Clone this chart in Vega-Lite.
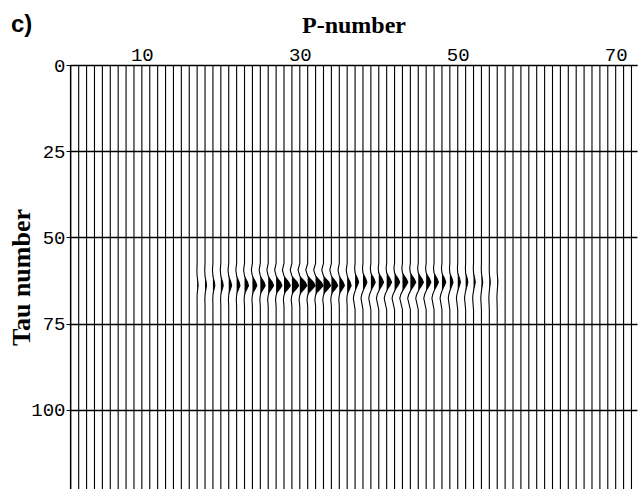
{
"$schema": "https://vega.github.io/schema/vega-lite/v6.json",
"width": 567, "height": 424,
"autosize": "none",
"padding": {"left": 70, "top": 65, "right": 4, "bottom": 0},
"background": "white",
"title": {"text": "c)", "anchor": "start", "frame": "bounds", "font": "Liberation Sans", "fontWeight": "bold", "fontSize": 24, "color": "black", "offset": 0, "dy": 24, "dx": 3},
"config": {"view": {"stroke": null}},
"datasets": {
"plain": [{"p":1},{"p":2},{"p":3},{"p":4},{"p":5},{"p":6},{"p":7},{"p":8},{"p":9},{"p":10},{"p":11},{"p":12},{"p":13},{"p":14},{"p":15},{"p":16},{"p":56},{"p":57},{"p":58},{"p":59},{"p":60},{"p":61},{"p":62},{"p":63},{"p":64},{"p":65},{"p":66},{"p":67},{"p":68},{"p":69},{"p":70},{"p":71},{"p":72}],
"wig": [
{"p":17,"t":0,"x":17},{"p":17,"t":57.5,"x":17},{"p":17,"t":59.5,"x":16.97},{"p":17,"t":61.2,"x":17},{"p":17,"t":62,"x":17.04},{"p":17,"t":63,"x":17.09},{"p":17,"t":64,"x":17.12},{"p":17,"t":65,"x":17.07},{"p":17,"t":66,"x":17.02},{"p":17,"t":66.8,"x":17},{"p":17,"t":68,"x":16.99},{"p":17,"t":70,"x":17},{"p":17,"t":123,"x":17},
{"p":18,"t":0,"x":18},{"p":18,"t":57.5,"x":18},{"p":18,"t":59.5,"x":17.96},{"p":18,"t":61.2,"x":18},{"p":18,"t":62,"x":18.05},{"p":18,"t":63,"x":18.14},{"p":18,"t":64,"x":18.18},{"p":18,"t":65,"x":18.11},{"p":18,"t":66,"x":18.03},{"p":18,"t":66.8,"x":18},{"p":18,"t":68,"x":17.98},{"p":18,"t":70,"x":18},{"p":18,"t":123,"x":18},
{"p":19,"t":0,"x":19},{"p":19,"t":57.5,"x":19},{"p":19,"t":59.5,"x":18.94},{"p":19,"t":61.2,"x":19},{"p":19,"t":62,"x":19.07},{"p":19,"t":63,"x":19.18},{"p":19,"t":64,"x":19.24},{"p":19,"t":65,"x":19.14},{"p":19,"t":66,"x":19.04},{"p":19,"t":66.8,"x":19},{"p":19,"t":68,"x":18.98},{"p":19,"t":70,"x":19},{"p":19,"t":123,"x":19},
{"p":20,"t":0,"x":20},{"p":20,"t":57.5,"x":20},{"p":20,"t":59.5,"x":19.93},{"p":20,"t":61.2,"x":20},{"p":20,"t":62,"x":20.09},{"p":20,"t":63,"x":20.23},{"p":20,"t":64,"x":20.3},{"p":20,"t":65,"x":20.18},{"p":20,"t":66,"x":20.05},{"p":20,"t":66.8,"x":20},{"p":20,"t":68,"x":19.97},{"p":20,"t":70,"x":20},{"p":20,"t":123,"x":20},
{"p":21,"t":0,"x":21},{"p":21,"t":57.5,"x":21},{"p":21,"t":59.5,"x":20.91},{"p":21,"t":61.2,"x":21},{"p":21,"t":62,"x":21.11},{"p":21,"t":63,"x":21.27},{"p":21,"t":64,"x":21.36},{"p":21,"t":65,"x":21.22},{"p":21,"t":66,"x":21.05},{"p":21,"t":66.8,"x":21},{"p":21,"t":68,"x":20.96},{"p":21,"t":70,"x":21},{"p":21,"t":123,"x":21},
{"p":22,"t":0,"x":22},{"p":22,"t":57.5,"x":22},{"p":22,"t":59.5,"x":21.9},{"p":22,"t":61.2,"x":22},{"p":22,"t":62,"x":22.13},{"p":22,"t":63,"x":22.32},{"p":22,"t":64,"x":22.42},{"p":22,"t":65,"x":22.25},{"p":22,"t":66,"x":22.06},{"p":22,"t":66.8,"x":22},{"p":22,"t":68,"x":21.96},{"p":22,"t":70,"x":22},{"p":22,"t":123,"x":22},
{"p":23,"t":0,"x":23},{"p":23,"t":57.5,"x":23},{"p":23,"t":59.5,"x":22.88},{"p":23,"t":61.2,"x":23},{"p":23,"t":62,"x":23.15},{"p":23,"t":63,"x":23.38},{"p":23,"t":64,"x":23.5},{"p":23,"t":65,"x":23.3},{"p":23,"t":66,"x":23.08},{"p":23,"t":66.8,"x":23},{"p":23,"t":68,"x":22.95},{"p":23,"t":70,"x":23},{"p":23,"t":123,"x":23},
{"p":24,"t":0,"x":24},{"p":24,"t":57.5,"x":24},{"p":24,"t":59.5,"x":23.86},{"p":24,"t":61.2,"x":24},{"p":24,"t":62,"x":24.17},{"p":24,"t":63,"x":24.42},{"p":24,"t":64,"x":24.56},{"p":24,"t":65,"x":24.34},{"p":24,"t":66,"x":24.08},{"p":24,"t":66.8,"x":24},{"p":24,"t":68,"x":23.94},{"p":24,"t":70,"x":24},{"p":24,"t":123,"x":24},
{"p":25,"t":0,"x":25},{"p":25,"t":57.5,"x":25},{"p":25,"t":59.5,"x":24.85},{"p":25,"t":61.2,"x":25},{"p":25,"t":62,"x":25.19},{"p":25,"t":63,"x":25.47},{"p":25,"t":64,"x":25.62},{"p":25,"t":65,"x":25.37},{"p":25,"t":66,"x":25.09},{"p":25,"t":66.8,"x":25},{"p":25,"t":68,"x":24.94},{"p":25,"t":70,"x":25},{"p":25,"t":123,"x":25},
{"p":26,"t":0,"x":26},{"p":26,"t":57.5,"x":26},{"p":26,"t":59.5,"x":25.83},{"p":26,"t":61.2,"x":26},{"p":26,"t":62,"x":26.2},{"p":26,"t":63,"x":26.51},{"p":26,"t":64,"x":26.68},{"p":26,"t":65,"x":26.41},{"p":26,"t":66,"x":26.1},{"p":26,"t":66.8,"x":26},{"p":26,"t":68,"x":25.93},{"p":26,"t":70,"x":26},{"p":26,"t":123,"x":26},
{"p":27,"t":0,"x":27},{"p":27,"t":57.5,"x":27},{"p":27,"t":59.5,"x":26.82},{"p":27,"t":61.2,"x":27},{"p":27,"t":62,"x":27.22},{"p":27,"t":63,"x":27.56},{"p":27,"t":64,"x":27.74},{"p":27,"t":65,"x":27.44},{"p":27,"t":66,"x":27.11},{"p":27,"t":66.8,"x":27},{"p":27,"t":68,"x":26.93},{"p":27,"t":70,"x":27},{"p":27,"t":123,"x":27},
{"p":28,"t":0,"x":28},{"p":28,"t":57.5,"x":28},{"p":28,"t":59.5,"x":27.8},{"p":28,"t":61.2,"x":28},{"p":28,"t":62,"x":28.24},{"p":28,"t":63,"x":28.6},{"p":28,"t":64,"x":28.8},{"p":28,"t":65,"x":28.48},{"p":28,"t":66,"x":28.12},{"p":28,"t":66.8,"x":28},{"p":28,"t":68,"x":27.92},{"p":28,"t":70,"x":28},{"p":28,"t":123,"x":28},
{"p":29,"t":0,"x":29},{"p":29,"t":57.5,"x":29},{"p":29,"t":59.5,"x":28.79},{"p":29,"t":61.2,"x":29},{"p":29,"t":62,"x":29.26},{"p":29,"t":63,"x":29.65},{"p":29,"t":64,"x":29.86},{"p":29,"t":65,"x":29.52},{"p":29,"t":66,"x":29.13},{"p":29,"t":66.8,"x":29},{"p":29,"t":68,"x":28.91},{"p":29,"t":70,"x":29},{"p":29,"t":123,"x":29},
{"p":30,"t":0,"x":30},{"p":30,"t":57.5,"x":30},{"p":30,"t":59.5,"x":29.78},{"p":30,"t":61.2,"x":30},{"p":30,"t":62,"x":30.27},{"p":30,"t":63,"x":30.68},{"p":30,"t":64,"x":30.9},{"p":30,"t":65,"x":30.54},{"p":30,"t":66,"x":30.14},{"p":30,"t":66.8,"x":30},{"p":30,"t":68,"x":29.91},{"p":30,"t":70,"x":30},{"p":30,"t":123,"x":30},
{"p":31,"t":0,"x":31},{"p":31,"t":57.5,"x":31},{"p":31,"t":59.5,"x":30.76},{"p":31,"t":61.2,"x":31},{"p":31,"t":62,"x":31.29},{"p":31,"t":63,"x":31.71},{"p":31,"t":64,"x":31.95},{"p":31,"t":65,"x":31.57},{"p":31,"t":66,"x":31.14},{"p":31,"t":66.8,"x":31},{"p":31,"t":68,"x":30.91},{"p":31,"t":70,"x":31},{"p":31,"t":123,"x":31},
{"p":32,"t":0,"x":32},{"p":32,"t":57.5,"x":32},{"p":32,"t":59.5,"x":31.76},{"p":32,"t":61.2,"x":32},{"p":32,"t":62,"x":32.29},{"p":32,"t":63,"x":32.71},{"p":32,"t":64,"x":32.95},{"p":32,"t":65,"x":32.57},{"p":32,"t":66,"x":32.14},{"p":32,"t":66.8,"x":32},{"p":32,"t":68,"x":31.91},{"p":32,"t":70,"x":32},{"p":32,"t":123,"x":32},
{"p":33,"t":0,"x":33},{"p":33,"t":57.5,"x":33},{"p":33,"t":59.5,"x":32.78},{"p":33,"t":61.2,"x":33},{"p":33,"t":62,"x":33.27},{"p":33,"t":63,"x":33.68},{"p":33,"t":64,"x":33.9},{"p":33,"t":65,"x":33.54},{"p":33,"t":66,"x":33.14},{"p":33,"t":66.8,"x":33},{"p":33,"t":68,"x":32.91},{"p":33,"t":70,"x":33},{"p":33,"t":123,"x":33},
{"p":34,"t":0,"x":34},{"p":34,"t":57.5,"x":34},{"p":34,"t":59.5,"x":33.8},{"p":34,"t":61.2,"x":34},{"p":34,"t":62,"x":34.24},{"p":34,"t":63,"x":34.6},{"p":34,"t":64,"x":34.8},{"p":34,"t":65,"x":34.48},{"p":34,"t":66,"x":34.12},{"p":34,"t":66.8,"x":34},{"p":34,"t":68,"x":33.92},{"p":34,"t":70,"x":34},{"p":34,"t":123,"x":34},
{"p":35,"t":0,"x":35},{"p":35,"t":57.5,"x":35},{"p":35,"t":59.5,"x":34.84},{"p":35,"t":61.2,"x":35},{"p":35,"t":62,"x":35.2},{"p":35,"t":63,"x":35.49},{"p":35,"t":64,"x":35.65},{"p":35,"t":65,"x":35.39},{"p":35,"t":66,"x":35.1},{"p":35,"t":66.8,"x":35},{"p":35,"t":68,"x":34.94},{"p":35,"t":70,"x":35},{"p":35,"t":123,"x":35},
{"p":36,"t":0,"x":36},{"p":36,"t":57.5,"x":36},{"p":36,"t":59.5,"x":35.88},{"p":36,"t":61.2,"x":36},{"p":36,"t":62,"x":36.15},{"p":36,"t":63,"x":36.38},{"p":36,"t":64,"x":36.5},{"p":36,"t":65,"x":36.3},{"p":36,"t":66,"x":36.08},{"p":36,"t":66.8,"x":36},{"p":36,"t":68,"x":35.95},{"p":36,"t":70,"x":36},{"p":36,"t":123,"x":36},
{"p":37,"t":0,"x":37},{"p":37,"t":57.5,"x":37},{"p":37,"t":59,"x":36.95},{"p":37,"t":60.3,"x":37},{"p":37,"t":61,"x":37.11},{"p":37,"t":62,"x":37.32},{"p":37,"t":63,"x":37.45},{"p":37,"t":64,"x":37.29},{"p":37,"t":65,"x":37.09},{"p":37,"t":65.6,"x":37},{"p":37,"t":66.5,"x":36.87},{"p":37,"t":67.7,"x":36.78},{"p":37,"t":69,"x":36.87},{"p":37,"t":71,"x":37},{"p":37,"t":123,"x":37},
{"p":38,"t":0,"x":38},{"p":38,"t":57.5,"x":38},{"p":38,"t":59,"x":37.94},{"p":38,"t":60.3,"x":38},{"p":38,"t":61,"x":38.13},{"p":38,"t":62,"x":38.35},{"p":38,"t":63,"x":38.5},{"p":38,"t":64,"x":38.33},{"p":38,"t":65,"x":38.1},{"p":38,"t":65.6,"x":38},{"p":38,"t":66.5,"x":37.85},{"p":38,"t":67.7,"x":37.75},{"p":38,"t":69,"x":37.85},{"p":38,"t":71,"x":38},{"p":38,"t":123,"x":38},
{"p":39,"t":0,"x":39},{"p":39,"t":57.5,"x":39},{"p":39,"t":59,"x":38.93},{"p":39,"t":60.3,"x":39},{"p":39,"t":61,"x":39.14},{"p":39,"t":62,"x":39.39},{"p":39,"t":63,"x":39.55},{"p":39,"t":64,"x":39.36},{"p":39,"t":65,"x":39.11},{"p":39,"t":65.6,"x":39},{"p":39,"t":66.5,"x":38.84},{"p":39,"t":67.7,"x":38.73},{"p":39,"t":69,"x":38.84},{"p":39,"t":71,"x":39},{"p":39,"t":123,"x":39},
{"p":40,"t":0,"x":40},{"p":40,"t":57.5,"x":40},{"p":40,"t":59,"x":39.93},{"p":40,"t":60.3,"x":40},{"p":40,"t":61,"x":40.15},{"p":40,"t":62,"x":40.42},{"p":40,"t":63,"x":40.6},{"p":40,"t":64,"x":40.39},{"p":40,"t":65,"x":40.12},{"p":40,"t":65.6,"x":40},{"p":40,"t":66.5,"x":39.82},{"p":40,"t":67.7,"x":39.7},{"p":40,"t":69,"x":39.82},{"p":40,"t":71,"x":40},{"p":40,"t":123,"x":40},
{"p":41,"t":0,"x":41},{"p":41,"t":57.5,"x":41},{"p":41,"t":59,"x":40.93},{"p":41,"t":60.3,"x":41},{"p":41,"t":61,"x":41.16},{"p":41,"t":62,"x":41.43},{"p":41,"t":63,"x":41.62},{"p":41,"t":64,"x":41.4},{"p":41,"t":65,"x":41.12},{"p":41,"t":65.6,"x":41},{"p":41,"t":66.5,"x":40.81},{"p":41,"t":67.7,"x":40.69},{"p":41,"t":69,"x":40.81},{"p":41,"t":71,"x":41},{"p":41,"t":123,"x":41},
{"p":42,"t":0,"x":42},{"p":42,"t":57.5,"x":42},{"p":42,"t":59,"x":41.92},{"p":42,"t":60.3,"x":42},{"p":42,"t":61,"x":42.16},{"p":42,"t":62,"x":42.46},{"p":42,"t":63,"x":42.65},{"p":42,"t":64,"x":42.42},{"p":42,"t":65,"x":42.13},{"p":42,"t":65.6,"x":42},{"p":42,"t":66.5,"x":41.81},{"p":42,"t":67.7,"x":41.68},{"p":42,"t":69,"x":41.81},{"p":42,"t":71,"x":42},{"p":42,"t":123,"x":42},
{"p":43,"t":0,"x":43},{"p":43,"t":57.5,"x":43},{"p":43,"t":59,"x":42.92},{"p":43,"t":60.3,"x":43},{"p":43,"t":61,"x":43.17},{"p":43,"t":62,"x":43.48},{"p":43,"t":63,"x":43.68},{"p":43,"t":64,"x":43.44},{"p":43,"t":65,"x":43.14},{"p":43,"t":65.6,"x":43},{"p":43,"t":66.5,"x":42.8},{"p":43,"t":67.7,"x":42.66},{"p":43,"t":69,"x":42.8},{"p":43,"t":71,"x":43},{"p":43,"t":123,"x":43},
{"p":44,"t":0,"x":44},{"p":44,"t":57.5,"x":44},{"p":44,"t":59,"x":43.92},{"p":44,"t":60.3,"x":44},{"p":44,"t":61,"x":44.17},{"p":44,"t":62,"x":44.48},{"p":44,"t":63,"x":44.68},{"p":44,"t":64,"x":44.44},{"p":44,"t":65,"x":44.14},{"p":44,"t":65.6,"x":44},{"p":44,"t":66.5,"x":43.8},{"p":44,"t":67.7,"x":43.66},{"p":44,"t":69,"x":43.8},{"p":44,"t":71,"x":44},{"p":44,"t":123,"x":44},
{"p":45,"t":0,"x":45},{"p":45,"t":57.5,"x":45},{"p":45,"t":59,"x":44.92},{"p":45,"t":60.3,"x":45},{"p":45,"t":61,"x":45.16},{"p":45,"t":62,"x":45.46},{"p":45,"t":63,"x":45.65},{"p":45,"t":64,"x":45.42},{"p":45,"t":65,"x":45.13},{"p":45,"t":65.6,"x":45},{"p":45,"t":66.5,"x":44.81},{"p":45,"t":67.7,"x":44.68},{"p":45,"t":69,"x":44.81},{"p":45,"t":71,"x":45},{"p":45,"t":123,"x":45},
{"p":46,"t":0,"x":46},{"p":46,"t":57.5,"x":46},{"p":46,"t":59,"x":45.93},{"p":46,"t":60.3,"x":46},{"p":46,"t":61,"x":46.15},{"p":46,"t":62,"x":46.42},{"p":46,"t":63,"x":46.6},{"p":46,"t":64,"x":46.39},{"p":46,"t":65,"x":46.12},{"p":46,"t":65.6,"x":46},{"p":46,"t":66.5,"x":45.82},{"p":46,"t":67.7,"x":45.7},{"p":46,"t":69,"x":45.82},{"p":46,"t":71,"x":46},{"p":46,"t":123,"x":46},
{"p":47,"t":0,"x":47},{"p":47,"t":57.5,"x":47},{"p":47,"t":59,"x":46.93},{"p":47,"t":60.3,"x":47},{"p":47,"t":61,"x":47.14},{"p":47,"t":62,"x":47.39},{"p":47,"t":63,"x":47.55},{"p":47,"t":64,"x":47.36},{"p":47,"t":65,"x":47.11},{"p":47,"t":65.6,"x":47},{"p":47,"t":66.5,"x":46.84},{"p":47,"t":67.7,"x":46.73},{"p":47,"t":69,"x":46.84},{"p":47,"t":71,"x":47},{"p":47,"t":123,"x":47},
{"p":48,"t":0,"x":48},{"p":48,"t":57.5,"x":48},{"p":48,"t":59,"x":47.94},{"p":48,"t":60.3,"x":48},{"p":48,"t":61,"x":48.12},{"p":48,"t":62,"x":48.34},{"p":48,"t":63,"x":48.48},{"p":48,"t":64,"x":48.31},{"p":48,"t":65,"x":48.1},{"p":48,"t":65.6,"x":48},{"p":48,"t":66.5,"x":47.86},{"p":48,"t":67.7,"x":47.76},{"p":48,"t":69,"x":47.86},{"p":48,"t":71,"x":48},{"p":48,"t":123,"x":48},
{"p":49,"t":0,"x":49},{"p":49,"t":57.5,"x":49},{"p":49,"t":59,"x":48.95},{"p":49,"t":60.3,"x":49},{"p":49,"t":61,"x":49.1},{"p":49,"t":62,"x":49.28},{"p":49,"t":63,"x":49.4},{"p":49,"t":64,"x":49.26},{"p":49,"t":65,"x":49.08},{"p":49,"t":65.6,"x":49},{"p":49,"t":66.5,"x":48.88},{"p":49,"t":67.7,"x":48.8},{"p":49,"t":69,"x":48.88},{"p":49,"t":71,"x":49},{"p":49,"t":123,"x":49},
{"p":50,"t":0,"x":50},{"p":50,"t":57.5,"x":50},{"p":50,"t":59,"x":49.96},{"p":50,"t":60.3,"x":50},{"p":50,"t":61,"x":50.09},{"p":50,"t":62,"x":50.24},{"p":50,"t":63,"x":50.34},{"p":50,"t":64,"x":50.22},{"p":50,"t":65,"x":50.07},{"p":50,"t":65.6,"x":50},{"p":50,"t":66.5,"x":49.9},{"p":50,"t":67.7,"x":49.83},{"p":50,"t":69,"x":49.9},{"p":50,"t":71,"x":50},{"p":50,"t":123,"x":50},
{"p":51,"t":0,"x":51},{"p":51,"t":57.5,"x":51},{"p":51,"t":59,"x":50.97},{"p":51,"t":60.3,"x":51},{"p":51,"t":61,"x":51.07},{"p":51,"t":62,"x":51.2},{"p":51,"t":63,"x":51.28},{"p":51,"t":64,"x":51.18},{"p":51,"t":65,"x":51.06},{"p":51,"t":65.6,"x":51},{"p":51,"t":66.5,"x":50.92},{"p":51,"t":67.7,"x":50.86},{"p":51,"t":69,"x":50.92},{"p":51,"t":71,"x":51},{"p":51,"t":123,"x":51},
{"p":52,"t":0,"x":52},{"p":52,"t":57.5,"x":52},{"p":52,"t":59,"x":51.97},{"p":52,"t":60.3,"x":52},{"p":52,"t":61,"x":52.06},{"p":52,"t":62,"x":52.15},{"p":52,"t":63,"x":52.22},{"p":52,"t":64,"x":52.14},{"p":52,"t":65,"x":52.04},{"p":52,"t":65.6,"x":52},{"p":52,"t":66.5,"x":51.93},{"p":52,"t":67.7,"x":51.89},{"p":52,"t":69,"x":51.93},{"p":52,"t":71,"x":52},{"p":52,"t":123,"x":52},
{"p":53,"t":0,"x":53},{"p":53,"t":57.5,"x":53},{"p":53,"t":59,"x":52.98},{"p":53,"t":60.3,"x":53},{"p":53,"t":61,"x":53.04},{"p":53,"t":62,"x":53.11},{"p":53,"t":63,"x":53.16},{"p":53,"t":64,"x":53.1},{"p":53,"t":65,"x":53.03},{"p":53,"t":65.6,"x":53},{"p":53,"t":66.5,"x":52.95},{"p":53,"t":67.7,"x":52.92},{"p":53,"t":69,"x":52.95},{"p":53,"t":71,"x":53},{"p":53,"t":123,"x":53},
{"p":54,"t":0,"x":54},{"p":54,"t":57.5,"x":54},{"p":54,"t":59,"x":53.99},{"p":54,"t":60.3,"x":54},{"p":54,"t":61,"x":54.03},{"p":54,"t":62,"x":54.08},{"p":54,"t":63,"x":54.12},{"p":54,"t":64,"x":54.08},{"p":54,"t":65,"x":54.02},{"p":54,"t":65.6,"x":54},{"p":54,"t":66.5,"x":53.96},{"p":54,"t":67.7,"x":53.94},{"p":54,"t":69,"x":53.96},{"p":54,"t":71,"x":54},{"p":54,"t":123,"x":54},
{"p":55,"t":0,"x":55},{"p":55,"t":57.5,"x":55},{"p":55,"t":59,"x":54.99},{"p":55,"t":60.3,"x":55},{"p":55,"t":61,"x":55.02},{"p":55,"t":62,"x":55.06},{"p":55,"t":63,"x":55.08},{"p":55,"t":64,"x":55.05},{"p":55,"t":65,"x":55.02},{"p":55,"t":65.6,"x":55},{"p":55,"t":66.5,"x":54.98},{"p":55,"t":67.7,"x":54.96},{"p":55,"t":69,"x":54.98},{"p":55,"t":71,"x":55},{"p":55,"t":123,"x":55}
]
},
"layer": [
{"data": {"name": "wig"},
 "transform": [{"filter": "datum.x >= datum.p"}],
 "mark": {"type": "area", "orient": "horizontal", "color": "black", "fill": "black", "fillOpacity": 1, "opacity": 1},
 "encoding": {
  "x": {"field": "x", "type": "quantitative", "stack": null,
   "scale": {"domain": [0.9, 72.7], "nice": false, "zero": false},
   "axis": {"orient": "top", "values": [10, 30, 50, 70], "grid": false, "ticks": false, "labelPadding": 1,
    "labelFont": "Liberation Mono", "labelFontSize": 19, "labelColor": "black",
    "domainColor": "black", "domainWidth": 1.2,
    "title": "P-number", "titleFont": "Liberation Serif", "titleFontSize": 24, "titleFontWeight": "bold", "titleColor": "black",
    "titleBaseline": "alphabetic", "titleY": -33}},
  "x2": {"field": "p"},
  "y": {"field": "t", "type": "quantitative",
   "scale": {"domain": [0, 123], "nice": false, "zero": false, "reverse": true},
   "axis": {"values": [0, 25, 50, 75, 100], "grid": true, "gridColor": "black", "gridWidth": 1.5, "gridOpacity": 1,
    "tickSize": 4, "tickColor": "black", "labelPadding": 1,
    "labelFont": "Liberation Mono", "labelFontSize": 19, "labelColor": "black",
    "domainColor": "black", "domainWidth": 1.2,
    "title": "Tau number", "titleFont": "Liberation Serif", "titleFontSize": 26, "titleFontWeight": "bold", "titleColor": "black",
    "titleBaseline": "alphabetic", "titleX": -41}},
  "detail": {"field": "p"}
 }},
{"data": {"name": "wig"},
 "mark": {"type": "line", "color": "black", "strokeWidth": 1.1},
 "encoding": {
  "x": {"field": "x", "type": "quantitative"},
  "y": {"field": "t", "type": "quantitative"},
  "detail": {"field": "p"},
  "order": {"field": "t"}
 }},
{"data": {"name": "plain"},
 "mark": {"type": "rule", "color": "black", "strokeWidth": 1.1},
 "encoding": {"x": {"field": "p", "type": "quantitative"}}}
]
}
